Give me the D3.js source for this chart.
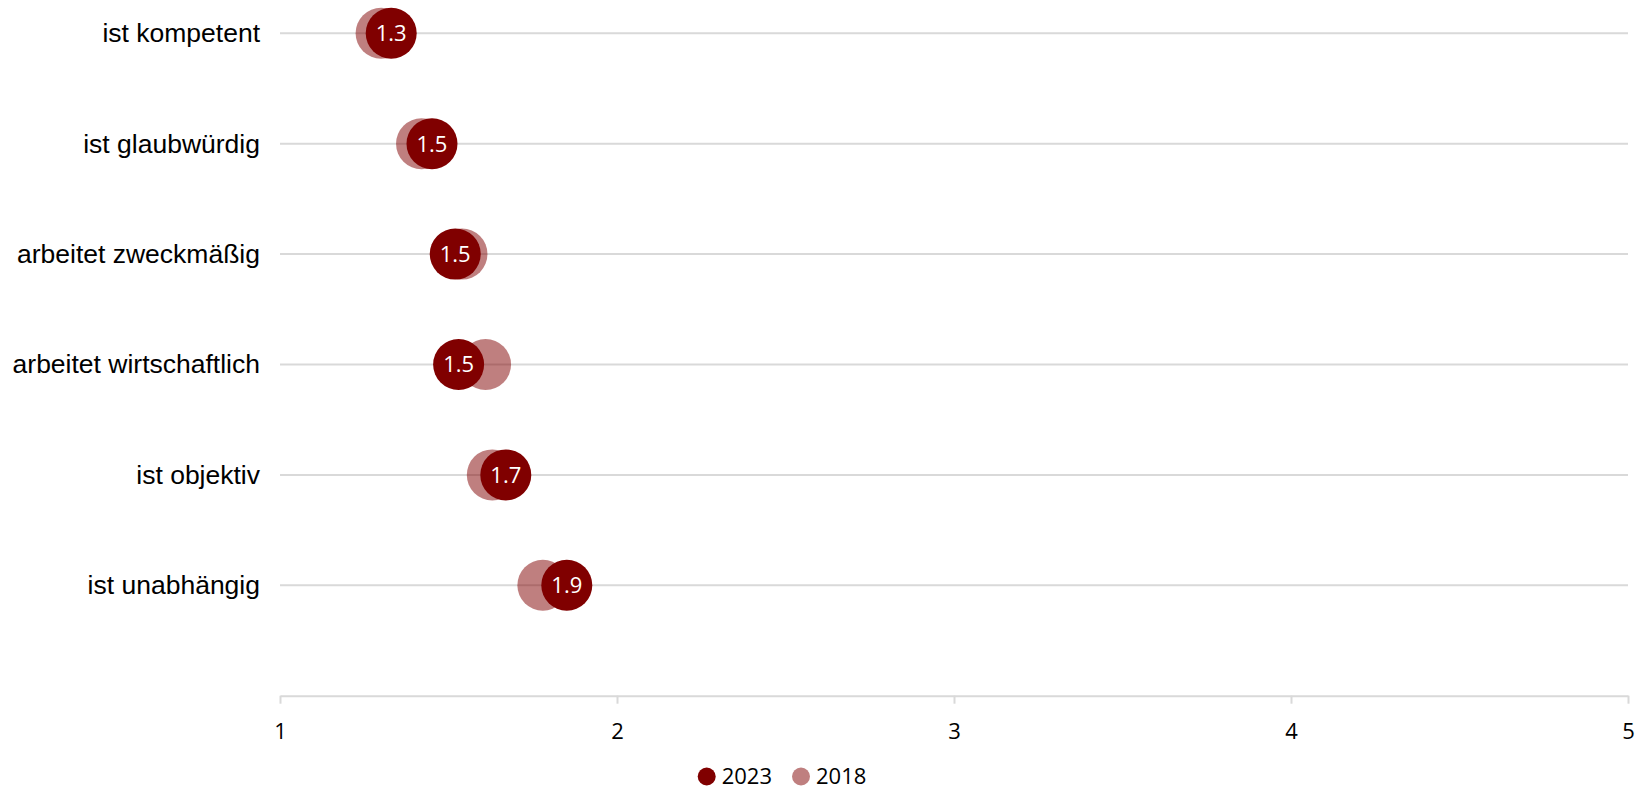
<!DOCTYPE html>
<html>
<head>
<meta charset="utf-8">
<script src="https://cdn.jsdelivr.net/npm/d3@7"></script>
<style>
  html, body { margin: 0; padding: 0; background: #fff; }
  svg { display: block; }
</style>
</head>
<body>
<svg id="chart" width="1643" height="791"></svg>
<script>
// ---- data ----
const categories = ["ist kompetent", "ist glaubwürdig", "arbeitet zweckmäßig", "arbeitet wirtschaftlich", "ist objektiv", "ist unabhängig"];
const values2023 = [1.33, 1.451, 1.52, 1.53, 1.67, 1.851];
const values2018 = [1.30, 1.42, 1.54, 1.61, 1.63, 1.78];
const xTicks = [1, 2, 3, 4, 5];
const seriesNames = ["2023", "2018"];

// ---- layout ----
const svg = d3.select("#chart");
const plotLeft = 280, plotRight = 1628;
const axisY = 695.7, topRowY = 33.3;
const x = d3.scaleLinear().domain([1, 5]).range([plotLeft, plotRight]);
const n = categories.length;
const y = d3.scaleLinear().domain([0, n]).range([axisY, topRowY]);
const rowPos = i => n - i; // first category at top
const gridColor = "#d9d9d9";
const c2023 = "#800000";
const r = 25.5;

// gridlines
svg.append("g").selectAll("line").data(categories).join("line")
  .attr("x1", plotLeft).attr("x2", plotRight)
  .attr("y1", (d, i) => y(rowPos(i))).attr("y2", (d, i) => y(rowPos(i)))
  .attr("stroke", gridColor).attr("stroke-width", 2);

// category labels via left axis
const yAxis = d3.axisLeft(y)
  .tickValues(categories.map((d, i) => rowPos(i)))
  .tickFormat(v => categories[n - v])
  .tickSize(0).tickPadding(20);
const gy = svg.append("g").attr("transform", `translate(${plotLeft},0)`).call(yAxis);
gy.select(".domain").remove();
gy.selectAll("text")
  .attr("font-family", "'Liberation Sans', Arial, sans-serif")
  .attr("font-size", 26.5).attr("fill", "#000");

// x axis
const xAxis = d3.axisBottom(x).tickValues(xTicks).tickFormat(d3.format("d"))
  .tickSize(8).tickSizeOuter(0).tickPadding(20);
const gx = svg.append("g").attr("transform", `translate(0,${axisY})`).call(xAxis);
gx.select(".domain").attr("stroke", gridColor).attr("stroke-width", 2);
gx.selectAll(".tick line").attr("stroke", gridColor).attr("stroke-width", 2);
gx.selectAll("text")
  .attr("font-family", "'Open Sans', sans-serif")
  .attr("font-size", 22).attr("fill", "#000");

// 2018 circles (semi-transparent)
svg.append("g").selectAll("circle").data(values2018).join("circle")
  .attr("cx", d => x(d)).attr("cy", (d, i) => y(rowPos(i)))
  .attr("r", r).attr("fill", c2023).attr("fill-opacity", 0.5);

// 2023 circles
svg.append("g").selectAll("circle").data(values2023).join("circle")
  .attr("cx", d => x(d)).attr("cy", (d, i) => y(rowPos(i)))
  .attr("r", r).attr("fill", c2023);

// value labels
svg.append("g").selectAll("text").data(values2023).join("text")
  .attr("x", d => x(d)).attr("y", (d, i) => y(rowPos(i)))
  .attr("dy", "0.36em")
  .attr("text-anchor", "middle")
  .attr("font-family", "'Open Sans', sans-serif")
  .attr("font-size", 22).attr("fill", "#fff")
  .text(d => d3.format(".1f")(d));

// legend
const legendX = [706.7, 801];
const legendY = 776.5;
const lg = svg.append("g");
lg.selectAll("circle").data(seriesNames).join("circle")
  .attr("cx", (d, i) => legendX[i]).attr("cy", legendY).attr("r", 9)
  .attr("fill", c2023).attr("fill-opacity", (d, i) => i === 0 ? 1 : 0.5);
lg.selectAll("text").data(seriesNames).join("text")
  .attr("x", (d, i) => legendX[i] + 15).attr("y", legendY)
  .attr("dy", "0.36em")
  .attr("font-family", "'Open Sans', sans-serif")
  .attr("font-size", 22).attr("fill", "#000")
  .text(d => d);
</script>
</body>
</html>
